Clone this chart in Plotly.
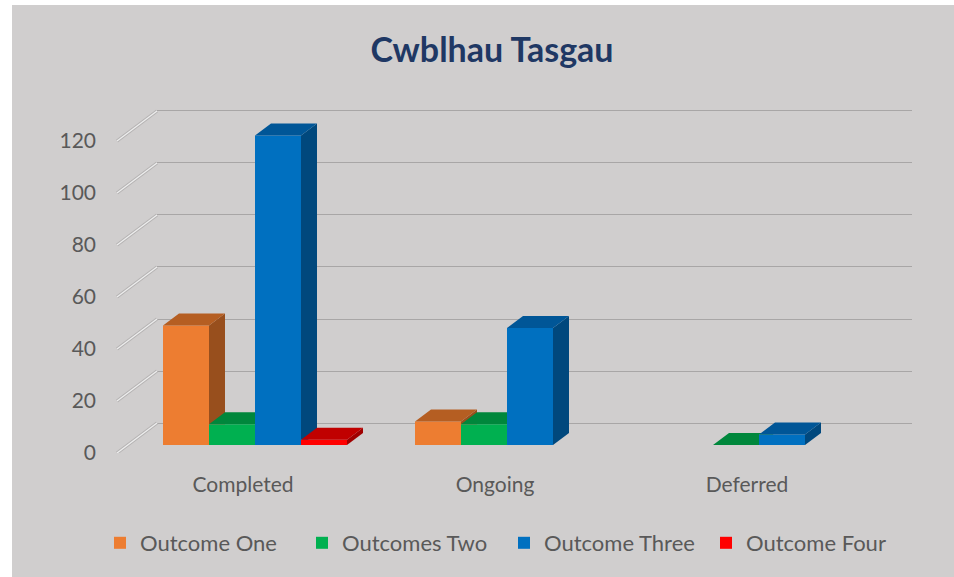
import plotly.graph_objects as go

# ---------------- data ----------------
categories = ["Completed", "Ongoing", "Deferred"]
series_names = ["Outcome One", "Outcomes Two", "Outcome Three", "Outcome Four"]
outcome_one = [46, 9, None]
outcomes_two = [8, 8, 0]
outcome_three = [119, 45, 4]
outcome_four = [2, None, None]
y_ticks = [0, 20, 40, 60, 80, 100, 120]

series_values = [outcome_one, outcomes_two, outcome_three, outcome_four]

# ---------------- style ----------------
W, H = 954, 577
BG = "#D0CECE"
FONT = "Lato"
TXT = "#595959"
front_cols = ["#ED7D31", "#00B050", "#0070C0", "#FF0000"]
side_cols = ["#984F1D", "#007A37", "#00487D", "#A00000"]
top_cols = ["#B55E22", "#00873C", "#005697", "#C00000"]

def fx(px):
    return px / W

def fy(py):
    return 1 - py / H

# pixel geometry of the pseudo-3D planes
CAT_PX = 252.0          # pixels per category
Y_PX = 2.6              # pixels per value unit (bar plane)
BAR_X0, BAR_Y0 = 129, 445   # left edge / zero line of the bar front plane
LAB_X0, LAB_Y0 = 100, 453   # label plane
WALL_X0, WALL_X1, WALL_Y0 = 157, 912, 423.5
WALL_PX = 2.61
DEPTH_DX_PX, DEPTH_DY_PX = 16, 12   # bar depth offset
DIAG_DX_PX, DIAG_DY_PX = 40, 30     # floor depth offset for axis ticks

n_cat = len(categories)
x_idx = list(range(n_cat))
GAP = 68 / CAT_PX
BW = (1 - GAP) / len(series_values)
DX = DEPTH_DX_PX / CAT_PX
DY = DEPTH_DY_PX / Y_PX

fig = go.Figure()

# ---- subplot 1 (x/y): back wall gridlines ----
wall_lo, wall_hi = -2, 122
fig.add_trace(go.Scatter(x=[0], y=[0], mode="markers", marker=dict(opacity=0),
                         showlegend=False, hoverinfo="skip", xaxis="x", yaxis="y"))

# ---- subplot 2 (x2/y2): bars ----
def clip(poly, f):
    out = []
    n = len(poly)
    for i in range(n):
        a, b = poly[i], poly[(i + 1) % n]
        fa, fb = f(a), f(b)
        if fa >= 0:
            out.append(a)
        if (fa >= 0) != (fb >= 0):
            t = fa / (fa - fb)
            out.append((a[0] + t * (b[0] - a[0]), a[1] + t * (b[1] - a[1])))
    return out

def add_poly(xs, ys, poly):
    if len(poly) < 3:
        return
    for p in poly + [poly[0]]:
        xs.append(p[0]); ys.append(p[1])
    xs.append(None); ys.append(None)

for k, (name, vals) in enumerate(zip(series_names, series_values)):
    offset = -(1 - GAP) / 2 + BW * k
    fig.add_trace(go.Bar(
        name=name, x=x_idx, y=vals, width=BW, offset=offset,
        marker=dict(color=front_cols[k], line=dict(width=0)),
        xaxis="x2", yaxis="y2", hoverinfo="skip"))

for k, vals in enumerate(series_values):
    offset = -(1 - GAP) / 2 + BW * k
    sx, sy, tx, ty = [], [], [], []
    for c, v in enumerate(vals):
        if v is None:
            continue
        xl = c + offset
        xr = xl + BW
        vn = series_values[k + 1][c] if k + 1 < len(series_values) else None
        side = [(xr, 0), (xr + DX, DY), (xr + DX, v + DY), (xr, v)]
        top = [(xl, v), (xr, v), (xr + DX, v + DY), (xl + DX, v + DY)]
        if vn is not None:
            side = clip(side, lambda p, vn=vn: p[1] - vn)
            if vn > v:
                left = clip(top, lambda p, xr=xr: xr - p[0])
                right = clip(clip(top, lambda p, xr=xr: p[0] - xr), lambda p, vn=vn: p[1] - vn)
                add_poly(tx, ty, left)
                add_poly(tx, ty, right)
            else:
                add_poly(tx, ty, top)
        else:
            add_poly(tx, ty, top)
        if v > 0:
            add_poly(sx, sy, side)
    fig.add_trace(go.Scatter(x=sx, y=sy, mode="lines", fill="toself", fillcolor=side_cols[k],
                             line=dict(width=0), showlegend=False, hoverinfo="skip",
                             xaxis="x2", yaxis="y2"))
    fig.add_trace(go.Scatter(x=tx, y=ty, mode="lines", fill="toself", fillcolor=top_cols[k],
                             line=dict(width=0), showlegend=False, hoverinfo="skip",
                             xaxis="x2", yaxis="y2"))

# ---- subplot 3 (x3/y3): labels plane + floor diagonals ----
lab_xmin = -0.5 - (117 - LAB_X0) / CAT_PX
lab_xmax = 2.5
lab_ymax = 135
diag_dx = DIAG_DX_PX / CAT_PX
diag_dy = DIAG_DY_PX / Y_PX
dxs, dys = [], []
for t in y_ticks:
    dxs += [-0.5, -0.5 + diag_dx, None]
    dys += [t, t + diag_dy, None]
fig.add_trace(go.Scatter(x=dxs, y=dys, mode="lines", line=dict(color="#B4B2B2", width=3.2),
                         showlegend=False, hoverinfo="skip", xaxis="x3", yaxis="y3"))
fig.add_trace(go.Scatter(x=dxs, y=dys, mode="lines", line=dict(color="#EDEDED", width=1.4),
                         showlegend=False, hoverinfo="skip", xaxis="x3", yaxis="y3"))

lab_x1_px = LAB_X0 + (lab_xmax - lab_xmin) * CAT_PX
bar_x1_px = BAR_X0 + 3 * CAT_PX

fig.update_layout(
    width=W, height=H,
    margin=dict(l=0, r=0, t=0, b=0, autoexpand=False),
    paper_bgcolor=BG, plot_bgcolor="rgba(0,0,0,0)",
    font=dict(family=FONT, color=TXT, size=21),
    title=dict(text="<b>Cwblhau Tasgau</b>", x=fx(492), xanchor="center",
               y=fy(50), yanchor="middle",
               font=dict(family=FONT, size=34, color="#1F3864")),
    showlegend=True,
    legend=dict(orientation="h", x=fx(504), xanchor="center", y=fy(543), yanchor="middle",
                font=dict(family=FONT, size=22, color=TXT), bgcolor="rgba(0,0,0,0)",
                entrywidth=157, entrywidthmode="pixels",
                itemclick=False, itemdoubleclick=False, traceorder="normal"),
    xaxis=dict(domain=[fx(WALL_X0), fx(WALL_X1)], range=[0, 1], visible=False, anchor="y",
               fixedrange=True),
    yaxis=dict(domain=[fy(WALL_Y0 + 2 * WALL_PX), fy(WALL_Y0 - 122 * WALL_PX)],
               range=[wall_lo, wall_hi], anchor="x", tickvals=y_ticks, showticklabels=False,
               ticks="", showgrid=True, gridcolor="#A8A6A6", gridwidth=1.3, zeroline=False,
               showline=False, fixedrange=True),
    xaxis2=dict(domain=[fx(BAR_X0), fx(bar_x1_px)], range=[-0.5, 2.5], visible=False,
                anchor="y2", fixedrange=True),
    yaxis2=dict(domain=[fy(BAR_Y0), fy(BAR_Y0 - 125 * Y_PX)], range=[0, 125], visible=False,
                anchor="x2", fixedrange=True),
    xaxis3=dict(domain=[fx(LAB_X0), fx(lab_x1_px)], range=[lab_xmin, lab_xmax], anchor="y3",
                tickvals=x_idx, ticktext=categories, ticks="", showgrid=False, zeroline=False,
                showline=False, ticklabelstandoff=17, fixedrange=True,
                tickfont=dict(family=FONT, size=21, color=TXT)),
    yaxis3=dict(domain=[fy(LAB_Y0), fy(LAB_Y0 - lab_ymax * Y_PX)], range=[0, lab_ymax],
                anchor="x3", tickvals=y_ticks, ticks="", showgrid=False, zeroline=False,
                showline=False, ticklabelstandoff=3, fixedrange=True,
                tickfont=dict(family=FONT, size=21, color=TXT)),
    shapes=[
        dict(type="rect", xref="paper", yref="paper", x0=0, x1=fx(12), y0=0, y1=1,
             fillcolor="white", line=dict(width=0), layer="below"),
        dict(type="rect", xref="paper", yref="paper", x0=0, x1=1, y0=fy(5), y1=1,
             fillcolor="white", line=dict(width=0), layer="below"),
    ],
)

fig.write_html("out.html")
